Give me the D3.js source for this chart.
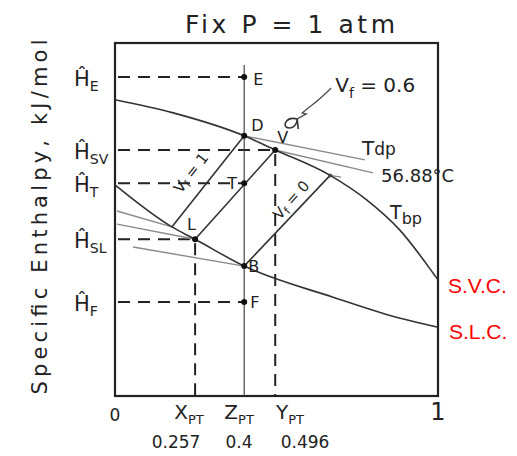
<!DOCTYPE html>
<html>
<head>
<meta charset="utf-8">
<script src="https://cdn.jsdelivr.net/npm/d3@7"></script>
<style>
  body { margin: 0; background: #fff; }
  text { font-family: "DejaVu Sans", sans-serif; fill: #222; }
</style>
</head>
<body>
<script>
// enthalpy - composition diagram, x = mole fraction, h = enthalpy (arbitrary units 0..100)

// saturated vapour curve and saturated liquid curve
var vaporCurve = [[0, 83.9], [0.18, 80.2], [0.4, 73.7], [0.496, 69.7], [0.666, 62.5],
                  [0.78, 55.5], [0.882, 47.0], [0.985, 34.8], [1, 32.9]];
var liquidCurve = [[0, 59.8], [0.176, 47.9], [0.248, 44.4], [0.4, 36.8], [0.675, 28.0],
                   [0.88, 22.1], [1, 19.5]];

// marked state points
var pointNames = ["E", "D", "V", "T", "L", "B", "F"];
var pointX     = [0.4, 0.4, 0.496, 0.4, 0.248, 0.4, 0.4];
var pointH     = [90.4, 73.7, 69.7, 60.3, 44.4, 36.8, 26.6];

// tie lines (liquid end -> vapour end)
var tieLines = [
  { name: "vf1", from: [0.176, 47.9], to: [0.4, 73.7] },
  { name: "T",   from: [0.248, 44.4], to: [0.496, 69.7] },
  { name: "vf0", from: [0.4, 36.8],   to: [0.666, 62.5] }
];

// isotherms outside the two phase region
var isotherms = [
  { name: "Tdp",   liquid: [[0.006, 52.4], [0.176, 47.9]], vapor: [[0.4, 73.7], [0.774, 66.9]] },
  { name: "56.88", liquid: [[0.006, 48.7], [0.248, 44.4]], vapor: [[0.496, 69.7], [0.799, 63.2]] },
  { name: "Tbp",   liquid: [[0.056, 42.2], [0.4, 36.8]],   vapor: [[0.666, 62.5], [0.70, 62.0]] }
];

// left labels (hat H) and the level they mark
var hLabels = ["E", "SV", "T", "SL", "F"];
var hLevels = [90.4, 69.7, 60.3, 44.4, 26.6];
var hEnds   = [0.4, 0.496, 0.4, 0.248, 0.4];

// composition labels under the axis
var compNames  = ["X", "Z", "Y"];
var compValues = ["0.257", "0.4", "0.496"];
var zTop = 93.8;

var W = 517, H = 456;
var svg = d3.select("body").append("svg")
    .attr("width", W)
    .attr("height", H);

var x = d3.scaleLinear().domain([0, 1]).range([115, 438]);
var y = d3.scaleLinear().domain([0, 100]).range([396, 43]);

var ink = "#222";
var line = d3.line().x(function(d) { return x(d[0]); }).y(function(d) { return y(d[1]); });

// ---------- frame ----------
svg.append("rect")
    .attr("x", x(0)).attr("y", y(100))
    .attr("width", x(1) - x(0)).attr("height", y(0) - y(100))
    .attr("fill", "none").attr("stroke", ink).attr("stroke-width", 2.2);

// ---------- dashed guides ----------
var dash = svg.append("g")
    .attr("stroke", ink).attr("stroke-width", 2).attr("stroke-dasharray", "12,8").attr("fill", "none");
hLevels.forEach(function(h, i) {
  dash.append("line")
    .attr("x1", x(0) + 3).attr("x2", x(hEnds[i]))
    .attr("y1", y(h)).attr("y2", y(h));
});
// vertical dashed from L and V down to the axis
[4, 2].forEach(function(i) {
  dash.append("line")
    .attr("x1", x(pointX[i])).attr("x2", x(pointX[i]))
    .attr("y1", y(pointH[i]) + 4).attr("y2", y(0));
});

// z line
svg.append("line")
    .attr("x1", x(0.4)).attr("x2", x(0.4))
    .attr("y1", y(zTop)).attr("y2", y(0))
    .attr("stroke", "#444").attr("stroke-width", 1.2);

// ---------- isotherms ----------
var iso = svg.append("g").attr("stroke", "#8a8a8a").attr("stroke-width", 1.4).attr("fill", "none");
isotherms.forEach(function(d) {
  iso.append("path").attr("d", line(d.liquid));
  iso.append("path").attr("d", line(d.vapor));
});

// ---------- saturation curves ----------
var curve = d3.line().curve(d3.curveMonotoneX)
    .x(function(d) { return x(d[0]); }).y(function(d) { return y(d[1]); });
svg.append("path").attr("d", curve(vaporCurve))
    .attr("fill", "none").attr("stroke", "#333").attr("stroke-width", 1.6);
svg.append("path").attr("d", curve(liquidCurve))
    .attr("fill", "none").attr("stroke", "#333").attr("stroke-width", 1.6);

// ---------- tie lines ----------
svg.append("g").selectAll("line")
    .data(tieLines)
    .enter()
    .append("line")
    .attr("x1", function(d) { return x(d.from[0]); })
    .attr("y1", function(d) { return y(d.from[1]); })
    .attr("x2", function(d) { return x(d.to[0]); })
    .attr("y2", function(d) { return y(d.to[1]); })
    .attr("stroke", "#333").attr("stroke-width", 1.6);

// ---------- points ----------
svg.append("g").selectAll("circle")
    .data(pointNames)
    .enter()
    .append("circle")
    .attr("cx", function(d, i) { return x(pointX[i]); })
    .attr("cy", function(d, i) { return y(pointH[i]); })
    .attr("r", 3)
    .attr("fill", "#111");
// small dot at vapour end of the vf = 0 line
svg.append("circle")
    .attr("cx", x(tieLines[2].to[0])).attr("cy", y(tieLines[2].to[1]))
    .attr("r", 2).attr("fill", "#444");

// point letters, offset from the point
var letterOffsets = { E: [9, 8], D: [7, -5], V: [2, -7], T: [-17, 6], L: [-8, -9], B: [4, 6], F: [6, 6] };
pointNames.forEach(function(n, i) {
  svg.append("text")
    .attr("x", x(pointX[i]) + letterOffsets[n][0])
    .attr("y", y(pointH[i]) + letterOffsets[n][1])
    .style("font-size", "16px")
    .text(n);
});

// ---------- helper: text with subscript ----------
function subText(px, py, main, sub, size, subSize, dy, anchor, rotate) {
  var t = svg.append("text")
    .attr("x", px).attr("y", py)
    .attr("text-anchor", anchor || "start")
    .style("font-size", size + "px");
  if (rotate) t.attr("transform", "rotate(" + rotate + "," + px + "," + py + ")");
  t.append("tspan").text(main);
  t.append("tspan").attr("dy", dy).style("font-size", subSize + "px").text(sub);
  return t;
}

// left hat-H labels
hLabels.forEach(function(s, i) {
  subText(74, y(hLevels[i]) + 9, "\u0124", s, 21, 14, 5);
});

// ---------- tie line labels ----------
var t1 = subText(195, 176, "V", "f", 15, 11, 3, "middle", -52);
t1.append("tspan").attr("dy", -3).text(" = 1");
var t0 = subText(x(0.545) + 4, y(54) - 2, "V", "f", 15, 11, 3, "middle", -48);
t0.append("tspan").attr("dy", -3).text(" = 0");

// vf = 0.6 note with squiggle arrow pointing at V
var vx = x(pointX[2]), vy = y(pointH[2]);
var t6 = subText(vx + 60, vy - 58, "V", "f", 20, 14, 6);
t6.append("tspan").attr("dy", -6).text(" = 0.6");
svg.append("path")
    .attr("d", "M" + (vx + 56) + "," + (vy - 62) +
      " Q" + (vx + 44) + "," + (vy - 50) + " " + (vx + 33) + "," + (vy - 42) +
      " L" + (vx + 27) + "," + (vy - 37) + " L" + (vx + 31) + "," + (vy - 36) +
      " L" + (vx + 22) + "," + (vy - 31))
    .attr("fill", "none").attr("stroke", "#555").attr("stroke-width", 1.4);
svg.append("path")
    .attr("d", "M" + (vx + 22) + "," + (vy - 31) +
      " C" + (vx + 10) + "," + (vy - 34) + " " + (vx + 6) + "," + (vy - 22) + " " + (vx + 14) + "," + (vy - 22) +
      " C" + (vx + 20) + "," + (vy - 22) + " " + (vx + 22) + "," + (vy - 28) + " " + (vx + 22) + "," + (vy - 31) +
      " L" + (vx + 23) + "," + (vy - 21))
    .attr("fill", "none").attr("stroke", "#333").attr("stroke-width", 1.6);

// isotherm labels
var tdpEnd = isotherms[0].vapor[1], t56End = isotherms[1].vapor[1], tbpEnd = isotherms[2].vapor[1];
subText(x(tdpEnd[0]) - 3, y(tdpEnd[1]) - 5, "T", "dp", 20, 17, 0);
svg.append("text")
    .attr("x", x(t56End[0]) + 8).attr("y", y(t56End[1]) + 9)
    .style("font-size", "18px")
    .text("56.88\u00B0C");
subText(x(tbpEnd[0]) + 49, y(tbpEnd[1]) + 42, "T", "bp", 19, 16, 5);

// red end labels
svg.append("text")
    .attr("x", 448).attr("y", y(vaporCurve[vaporCurve.length - 1][1]) + 13)
    .style("font-family", "Liberation Sans, Arial, sans-serif").style("font-size", "21px").style("fill", "#ff0000")
    .text("S.V.C.");
svg.append("text")
    .attr("x", 449).attr("y", y(liquidCurve[liquidCurve.length - 1][1]) + 12)
    .style("font-family", "Liberation Sans, Arial, sans-serif").style("font-size", "21px").style("fill", "#ff0000")
    .text("S.L.C.");

// ---------- axis labels ----------
svg.append("text")
    .attr("x", x(0)).attr("y", 421).attr("text-anchor", "middle")
    .style("font-size", "17px").text("0");
svg.append("text")
    .attr("x", x(1)).attr("y", 420).attr("text-anchor", "middle")
    .style("font-size", "24px").text("1");

var compX = [x(0.23), x(0.385), x(0.545)];
compNames.forEach(function(n, i) {
  subText(compX[i] - 15, 419, n, "PT", 20, 13, 5);
  svg.append("text")
    .attr("x", [176, 239, 305][i]).attr("y", 448).attr("text-anchor", "middle")
    .style("font-size", "17px")
    .text(compValues[i]);
});

// title
svg.append("text")
    .attr("x", 290).attr("y", 33).attr("text-anchor", "middle")
    .attr("textLength", 210).attr("lengthAdjust", "spacing")
    .style("font-size", "25px")
    .text("Fix P = 1 atm");

// y title
svg.append("text")
    .attr("transform", "translate(47,217) rotate(-90)")
    .attr("text-anchor", "middle")
    .attr("textLength", 355).attr("lengthAdjust", "spacing")
    .style("font-size", "21px")
    .text("Specific Enthalpy, kJ/mol");
</script>
</body>
</html>
